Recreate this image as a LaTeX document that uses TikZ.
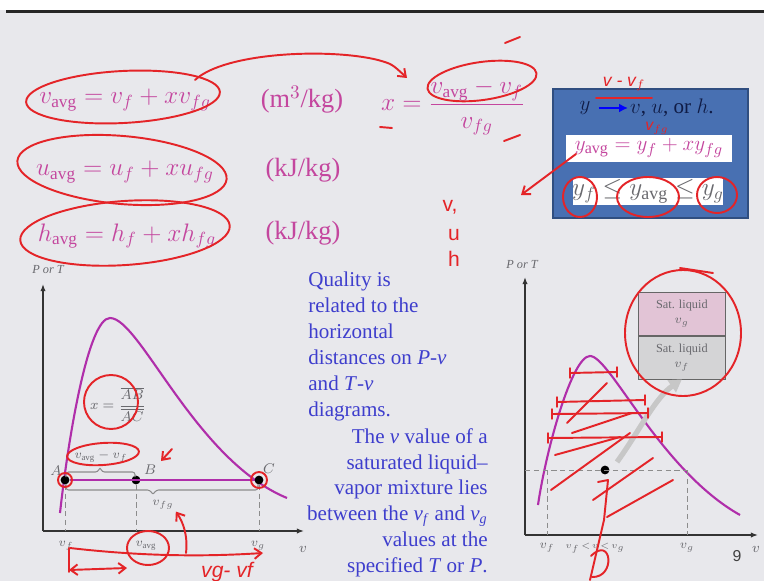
\documentclass[tikz,border=0pt]{standalone}
\usepackage{amsmath}
\usepackage{fontspec}
\setmainfont{Liberation Serif}
\setsansfont{Liberation Sans}
\usetikzlibrary{positioning,arrows.meta,fit}
\definecolor{slidebg}{RGB}{232,232,236}
\definecolor{eqpink}{RGB}{196,70,158}
\definecolor{redink}{RGB}{228,36,40}
\definecolor{txtblue}{RGB}{62,62,205}
\definecolor{domepurple}{RGB}{176,46,170}
\definecolor{boxblue}{RGB}{72,112,178}
\definecolor{boxedge}{RGB}{48,78,128}
\definecolor{navy}{RGB}{16,28,70}
\definecolor{satpink}{RGB}{226,196,214}
\definecolor{satgrey}{RGB}{212,212,214}
\definecolor{inkgrey}{RGB}{105,105,110}

\begin{document}
\begin{tikzpicture}[x=0.02cm, y=-0.02cm,
    every node/.style={inner sep=1pt},
    eq/.style={text=eqpink, font=\fontsize{14}{17}\selectfont},
    unit/.style={text=eqpink, font=\fontsize{15}{18}\selectfont},
    para/.style={text=txtblue, font=\fontsize{12}{14.7}\selectfont, inner sep=0pt},
    ink/.style={draw=redink, line width=1.1pt, line cap=round, line join=round},
    inkarr/.style={ink, -{Straight Barb[length=4pt, width=6pt]}},
    hand/.style={text=redink, font=\sffamily\itshape},
    dome/.style={draw=domepurple, line width=1.2pt},
    axisline/.style={draw=black!80, line width=0.8pt, -{Latex[length=4pt, width=3pt]}},
    guide/.style={draw=black!45, dash pattern=on 3pt off 2pt, line width=0.5pt},
    lbl/.style={text=inkgrey, font=\footnotesize},
    tinylbl/.style={text=inkgrey, font=\scriptsize},
    statept/.style={circle, fill=black, inner sep=0pt, minimum size=5pt},
  ]
  % slide background and title rule
  \useasboundingbox (0,0) rectangle (764,581);
  \fill[white] (0,0) rectangle (764,10);
  \fill[slidebg] (0,10) rectangle (764,581);
  \fill[black!85] (6,10) rectangle (764,13);

  % property equations with their units
  \node[eq] (veq) at (125,100) {$v_{\mathrm{avg}} = v_f + x v_{fg}$};
  \node[eq] (ueq) at (125,172) {$u_{\mathrm{avg}} = u_f + x u_{fg}$};
  \node[eq] (heq) at (127,236) {$h_{\mathrm{avg}} = h_f + x h_{fg}$};
  \node[unit] (vunit) at (302,100) {(m$^3$/kg)};
  \node[unit] (uunit) at (303,170) {(kJ/kg)};
  \node[unit] (hunit) at (303,233) {(kJ/kg)};
  \node[eq] (xfrac) at (453,107) {$x = \dfrac{v_{\mathrm{avg}} - v_f}{v_{fg}}$};

  % the y box
  \coordinate (boxnw) at (553,89);
  \coordinate (boxse) at (748,218);
  \node[fit=(boxnw)(boxse), inner sep=0pt, draw=boxedge, fill=boxblue, line width=0.8pt] (ybox) {};
  \fill[white] (566,135) rectangle (732,162);
  \fill[white] (573,178) rectangle (723,205);
  \node[text=navy, font=\fontsize{13}{15}\selectfont] (ysym) at (585,108) {$y$};
  \node[text=navy, font=\fontsize{12}{14}\selectfont, anchor=west] (vuh) at (628,108) {$v$, $u$, or $h$.};
  \draw[blue, line width=1.4pt, -{Latex[length=5pt, width=5pt]}] (ysym.east) ++(6,0) -- (vuh.west);
  \node[text=eqpink, font=\fontsize{13}{15}\selectfont] (yavg) at (649,148) {$y_{\mathrm{avg}} = y_f + x y_{fg}$};
  \node[text=inkgrey, font=\fontsize{14.5}{17}\selectfont] (yrange) at (648,191) {$y_f \le y_{\mathrm{avg}} \le y_g$};

  % quality text
  \node[para, anchor=north west, align=left] (quality) at (308,272)
    {Quality is\\ related to the\\ horizontal\\ distances on \textit{P}-\textit{v}\\ and \textit{T}-\textit{v}\\ diagrams.};
  \node[para, anchor=north east, align=right] (vvalue) at (488,428)
    {The \textit{v} value of a\\ saturated liquid--\\ vapor mixture lies\\
     between the \textit{v}\textsubscript{\textit{f}} and \textit{v}\textsubscript{\textit{g}}\\ values at the\\ specified \textit{T} or \textit{P}.};

  % left P-v diagram
  \coordinate (lo) at (43,531);
  \coordinate (ltop) at (43,284);
  \coordinate (lend) at (304,531);
  \draw[axisline] (lo) -- (ltop);
  \draw[axisline] (lo) -- (lend);
  \node[lbl, font=\scriptsize\itshape] (laxy) at (48,270) {P or T};
  \node[lbl] (laxx) at (303,549) {$v$};
  \draw[dome] (60,513) .. controls (68,440) and (88,318) .. (110,318)
                       .. controls (140,318) and (195,460) .. (287,498);
  \node[statept] (ptA) at (65,480) {};
  \node[statept] (ptB) at (136,480) {};
  \node[statept] (ptC) at (259,480) {};
  \draw[dome] (ptA) -- (ptC);
  \node[lbl] (lblA) at (56,471) {$A$};
  \node[lbl] (lblB) at (150,470) {$B$};
  \node[lbl] (lblC) at (269,469) {$C$};
  \node[tinylbl] (lvf) at (66,546) {$v_f$};
  \node[tinylbl] (lvavg) at (146,546) {$v_{\mathrm{avg}}$};
  \node[tinylbl] (lvg) at (258,546) {$v_g$};
  \draw[guide] (ptA) -- (ptA |- lo);
  \draw[guide] (ptB) -- (ptB |- lo);
  \draw[guide] (ptC) -- (ptC |- lo);
  % braces for the two distances
  \draw[black!45, line width=0.6pt, rounded corners=1.5pt]
    (66,477) -- (66,472) -- (98,472) -- (100,467) -- (102,472) -- (135,472) -- (135,477);
  \draw[black!45, line width=0.6pt, rounded corners=1.5pt]
    (66,484) -- (66,490) -- (150,490) -- (153,495) -- (156,490) -- (258,490) -- (258,484);
  \node[tinylbl] (ldiff) at (101,457) {$v_{\mathrm{avg}} - v_f$};
  \node[tinylbl] (lvfg) at (163,505) {$v_{fg}$};
  \node[lbl] (lratio) at (118,404) {$x = \dfrac{\overline{AB}}{\overline{AC}}$};

  % right T-v diagram
  \coordinate (ro) at (525,535);
  \coordinate (rtop) at (525,277);
  \coordinate (rend) at (758,535);
  \draw[axisline] (ro) -- (rtop);
  \draw[axisline] (ro) -- (rend);
  \node[lbl, font=\scriptsize\itshape] (raxy) at (522,265) {P or T};
  \node[lbl] (raxx) at (756,549) {$v$};
  \draw[dome] (538,505) .. controls (546,450) and (572,356) .. (590,356)
                        .. controls (610,356) and (660,470) .. (740,515);
  \node[statept] (rpt) at (605,470) {};
  \coordinate (rvf) at (547,470);
  \coordinate (rvg) at (687,470);
  \draw[guide] (ro |- rpt) -- (rvg);
  \draw[guide] (rvf) -- (rvf |- ro);
  \draw[guide] (rvg) -- (rvg |- ro);
  \node[tinylbl] (rlvf) at (547,548) {$v_f$};
  \node[tinylbl, font=\tiny] (rlv) at (595,548) {$v_f\!<\!v\!<\!v_g$};
  \node[tinylbl] (rlvg) at (687,548) {$v_g$};
  \node[font=\sffamily\small, text=black!75] (pageno) at (737,556) {9};
  % saturated states box
  \node[draw=black!60, fill=satpink, minimum width=1.74cm, minimum height=0.86cm,
        inner sep=0pt, align=center, text=inkgrey, font=\fontsize{7}{8.5}\selectfont,
        anchor=north west] (satg) at (638,292) {Sat. liquid\\ $v_g$};
  \node[draw=black!60, fill=satgrey, minimum width=1.74cm, minimum height=0.86cm,
        inner sep=0pt, align=center, text=inkgrey, font=\fontsize{7}{8.5}\selectfont,
        below=0pt of satg] (satf) {Sat. liquid\\ $v_f$};
  \draw[black!22, line width=3pt, -{Triangle[length=7pt, width=8pt]}]
    (rpt) ++(12,-8) .. controls (640,430) and (655,398) .. (satf.south);

  % red pen marks on the equations
  \draw[ink, rotate around={3:(123,97)}] (123,97) ellipse [x radius=97, y radius=26];
  \draw[ink, rotate around={-5:(122,170)}] (122,170) ellipse [x radius=105, y radius=34];
  \draw[ink, rotate around={4:(125,233)}] (125,233) ellipse [x radius=105, y radius=32];
  \draw[ink, rotate around={8:(482,81)}] (482,81) ellipse [x radius=55, y radius=19];
  \draw[inkarr] (195,80) .. controls (225,52) and (330,48) .. (378,60)
                         .. controls (392,64) .. (407,78);
  \draw[ink] (505,43) -- (520,37);
  \draw[ink] (380,127) -- (392,128);
  \draw[ink] (504,141) -- (520,135);
  % red pen marks on the box
  \node[hand] (hnum) at (624,84) {v - v$_f$};
  \draw[ink] (596,98) -- (652,98);
  \node[hand, font=\sffamily\itshape\small] (hden) at (657,128) {v$_{fg}$};
  \draw[ink] (580,197) ellipse [x radius=17, y radius=20];
  \draw[ink] (648,197) ellipse [x radius=31, y radius=20];
  \draw[ink] (717,195) ellipse [x radius=20, y radius=18];
  \coordinate (pullend) at (521,195);
  \draw[inkarr] (576,154) -- (pullend);
  \node[hand, font=\sffamily\large] (hv) at (450,207) {v,};
  \node[hand, font=\sffamily\large] (hu) at (454,235) {u};
  \node[hand, font=\sffamily\large] (hh) at (454,259) {h};

  % red pen marks on the left diagram
  \draw[ink] (111,402) ellipse [x radius=27, y radius=27];
  \draw[ink, rotate around={4:(103,454)}] (103,454) ellipse [x radius=36, y radius=11];
  \draw[inkarr] (172,449) -- (161,461);
  \draw[ink] (ptA) circle [radius=7];
  \draw[ink] (ptC) circle [radius=8];
  \draw[ink] (148,548) ellipse [x radius=21, y radius=17];
  \draw[inkarr] (186,553) .. controls (188,535) and (183,522) .. (lvfg.south east);
  \draw[inkarr] (70,548) .. controls (140,556) and (200,557) .. (263,553);
  \draw[ink, {Straight Barb[length=4pt, width=6pt]}-{Straight Barb[length=4pt, width=6pt]}]
    (69,570) -- (127,568);
  \draw[ink] (69,548) -- (69,572);
  \node[hand, font=\sffamily\itshape\large] (hdiff) at (227,572) {vg- vf};

  % red hatching on the right diagram
  \draw[ink] (570,373) -- (617,372);
  \draw[ink] (557,402) -- (645,400);
  \draw[ink] (552,414) -- (648,413);
  \draw[ink] (548,438) -- (662,437);
  \foreach \hx/\hy in {570/373, 617/372, 557/402, 645/400, 552/414, 648/413, 548/438, 662/437}
    \draw[ink, line width=0.8pt] (\hx,\hy-5) -- (\hx,\hy+5);
  \draw[ink] (567,423) -- (607,383);
  \draw[ink] (572,433) -- (632,413);
  \draw[ink] (551,490) -- (630,433);
  \draw[ink] (555,455) -- (620,437);
  \draw[ink] (593,500) -- (653,458);
  \draw[ink] (607,517) -- (673,480);
  \draw[ink] (598,482) -- (608,480) -- (604,520) -- (590,580);
  \draw[ink] (591,556) .. controls (612,535) and (616,578) .. (592,577);
  \draw[ink] (683,333) ellipse [x radius=58, y radius=63];
  \draw[ink] (680,268) -- (713,273);
\end{tikzpicture}
\end{document}
